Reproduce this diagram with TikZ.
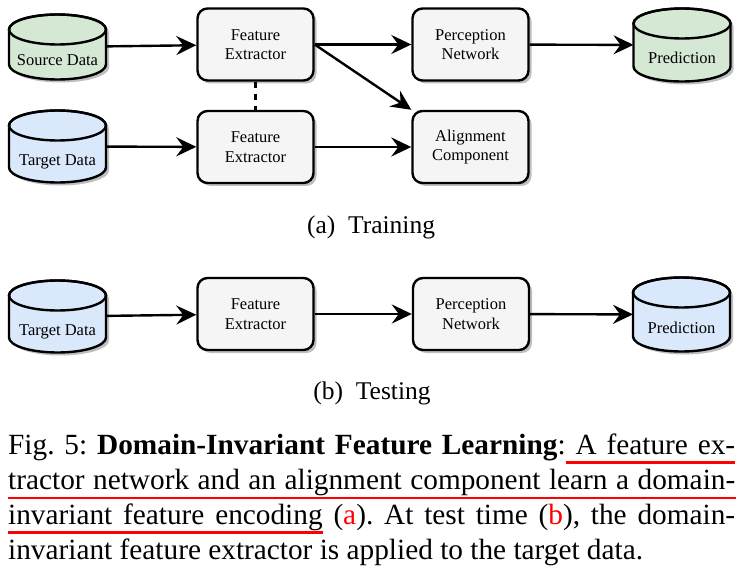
\documentclass[tikz,border=0pt]{standalone}
\usepackage{fontspec}
\setmainfont{Liberation Serif}
\usetikzlibrary{shadows,arrows.meta}
\pgfdeclarelayer{background}
\pgfsetlayers{background,main}
\definecolor{srcgreen}{HTML}{D5E8D4}
\definecolor{tgtblue}{HTML}{DAE8FC}
\definecolor{boxgray}{HTML}{F5F5F5}
\frenchspacing
\newcommand{\dbtext}[1]{\raisebox{-19pt}[0pt][0pt]{#1}}
\newcommand{\ulword}[1]{\setbox0\hbox{#1}\rlap{\textcolor{red}{\rule[-9.5pt]{\wd0}{2.5pt}}}\box0\relax}
\newcommand{\ulspace}{{\color{red}\leaders\hrule height -7pt depth 9.5pt\hskip\fontdimen2\font plus\fontdimen3\font minus\fontdimen4\font}}

\begin{document}
\begin{tikzpicture}
  [x=1pt,y=-1pt,
   shade/.style={drop shadow={shadow xshift=3pt,shadow yshift=-3pt,fill=black!25,opacity=1}},
   blockbox/.style={rectangle,rounded corners=10pt,draw,line width=2.4pt,fill=boxgray,shade,
     minimum width=116pt,minimum height=72pt,align=center,font=\fontsize{16.5}{19.5}\selectfont},
   db/.style={rectangle,outer sep=0pt,inner sep=0pt,minimum width=97pt,minimum height=72pt,
     font=\fontsize{16.5}{19.5}\selectfont},
   link/.style={line width=2.4pt,-{Stealth[length=20pt,width=19pt,inset=7pt]}},
   capline/.style={anchor=base west,inner sep=0pt,font=\fontsize{29.3}{34}\selectfont},
   sub/.style={font=\fontsize{25.5}{30}\selectfont}]
  \useasboundingbox (0,0) rectangle (747,580);

  \node[db,minimum height=65pt] (src) at (57.5,47) {\dbtext{Source Data}};
  \node[blockbox] (fe1) at (255.5,44.5) {Feature\\Extractor};
  \node[blockbox] (pn1) at (470.5,44.5) {Perception\\Network};
  \node[db,minimum height=73pt] (pred1) at (682,45) {\dbtext{Prediction}};
  \node[db] (tgt1) at (57.5,146.5) {\dbtext{Target Data}};
  \node[blockbox] (fe2) at (255.5,147) {Feature\\Extractor};
  \node[blockbox] (ac) at (470.5,147) {Alignment\\Component};

  \draw[link] (src) -- (fe1);
  \draw[link] (fe1) -- (pn1);
  \draw[link] (pn1) -- (pred1);
  \draw[link] (fe1.east) -- (ac.north west);
  \draw[link] (tgt1) -- (fe2);
  \draw[link] (fe2) -- (ac);
  \draw[line width=2.4pt,dash pattern=on 6pt off 6pt] (fe1) -- (fe2);

  \node[sub] (train) at (371,227) {(a)~ Training};

  \node[db] (tgt2) at (57.5,316.5) {\dbtext{Target Data}};
  \node[blockbox] (fe3) at (255.5,314) {Feature\\Extractor};
  \node[blockbox] (pn2) at (471,314) {Perception\\Network};
  \node[db,minimum height=74pt] (pred2) at (681.5,314.5) {\dbtext{Prediction}};

  \draw[link] (tgt2) -- (fe3);
  \draw[link] (fe3) -- (pn2);
  \draw[link] (pn2) -- (pred2);

  \node[sub] (test) at (372,393) {(b)~ Testing};

  \begin{pgfonlayer}{background}
    \fill[white] (0,0) rectangle (747,580);
    \foreach \n/\c in {src/srcgreen,pred1/srcgreen,tgt1/tgtblue,tgt2/tgtblue,pred2/tgtblue} {
      \path[shade,draw,fill=\c,line width=2.4pt] ([yshift=-15pt]\n.north west)
        -- ([yshift=15pt]\n.south west) arc[start angle=180,end angle=360,x radius=48.5pt,y radius=15pt]
        -- ([yshift=-15pt]\n.north east) arc[start angle=0,end angle=180,x radius=48.5pt,y radius=15pt]
        -- cycle;
      \draw[line width=2.4pt] ([yshift=-15pt]\n.north) ellipse[x radius=48.5pt,y radius=15pt];
    }
  \end{pgfonlayer}

  \node[capline] (cap1) at (8,454) {\makebox[727pt][s]{Fig.\ 5: \textbf{Domain-Invariant Feature Learning}:\ulspace\ulword{A}\ulspace\ulword{feature}\ulspace\ulword{ex-}}};
  \node[capline] (cap2) at (8,489) {\makebox[727pt][s]{tractor network and an alignment component learn a domain-}};
  \node[capline] (cap3) at (8,524) {\makebox[727pt][s]{\ulword{invariant}\ulspace\ulword{feature}\ulspace\ulword{encoding} (\textcolor{red}{a}). At test time (\textcolor{red}{b}), the domain-}};
  \node[capline] (cap4) at (8,559) {invariant feature extractor is applied to the target data.};

  \draw[red,line width=2.5pt] ([yshift=-9pt]cap2.base west) -- ([yshift=-9pt,xshift=1pt]cap2.base east);
\end{tikzpicture}
\end{document}
